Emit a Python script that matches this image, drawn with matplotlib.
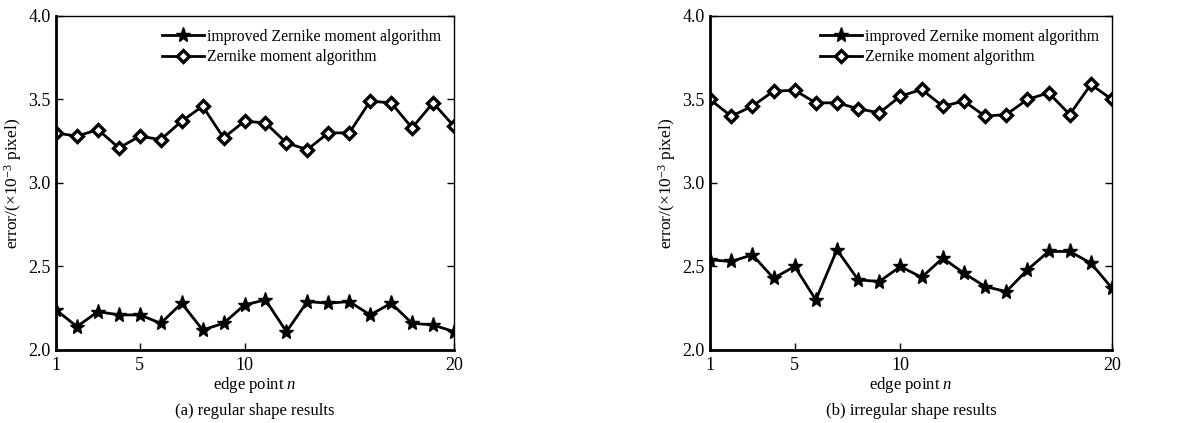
import matplotlib
matplotlib.use("Agg")
import matplotlib.pyplot as plt

plt.rcParams['font.family'] = ['Liberation Serif', 'DejaVu Serif']
plt.rcParams['mathtext.fontset'] = 'custom'
plt.rcParams['mathtext.rm'] = 'Liberation Serif'
plt.rcParams['mathtext.it'] = 'Liberation Serif:italic'

n = list(range(1, 21))
xticks = [1, 5, 10, 20]
yticks = [2.0, 2.5, 3.0, 3.5, 4.0]
ytick_labels = ["2.0", "2.5", "3.0", "3.5", "4.0"]

reg_improved = [2.24, 2.14, 2.23, 2.21, 2.21, 2.16, 2.28, 2.12, 2.16, 2.27,
                2.30, 2.11, 2.29, 2.28, 2.29, 2.21, 2.28, 2.16, 2.15, 2.11]
reg_zernike = [3.30, 3.28, 3.32, 3.21, 3.28, 3.26, 3.37, 3.46, 3.27, 3.37,
               3.36, 3.24, 3.20, 3.30, 3.30, 3.49, 3.48, 3.33, 3.48, 3.34]
irr_improved = [2.54, 2.53, 2.57, 2.43, 2.50, 2.30, 2.60, 2.42, 2.41, 2.50,
                2.435, 2.55, 2.46, 2.38, 2.35, 2.48, 2.59, 2.59, 2.52, 2.37]
irr_zernike = [3.50, 3.40, 3.46, 3.55, 3.555, 3.48, 3.48, 3.445, 3.42, 3.52,
               3.56, 3.46, 3.49, 3.40, 3.41, 3.50, 3.54, 3.41, 3.59, 3.50]

labels = ["improved Zernike moment algorithm", "Zernike moment algorithm"]
captions = ["(a) regular shape results", "(b) irregular shape results"]

fig = plt.figure(figsize=(12, 4.23), dpi=100)
positions = [[0.0467, 0.1726, 0.3316, 0.7896], [0.5917, 0.1726, 0.335, 0.7896]]
datasets = [(reg_improved, reg_zernike), (irr_improved, irr_zernike)]

for pos, (imp, zer), cap in zip(positions, datasets, captions):
    ax = fig.add_axes(pos)
    ax.plot(n, imp, color='black', lw=2.0, marker='*', ms=11, mfc='black', mec='black', label=labels[0])
    ax.plot(n, zer, color='black', lw=2.0, marker='D', ms=6, mfc='white', mec='black', mew=2.4, label=labels[1])
    ax.set_xlim(1, 20)
    ax.set_ylim(2.0, 4.0)
    ax.set_xticks(xticks)
    ax.set_xticklabels([str(t) for t in xticks], fontsize=13)
    ax.set_yticks(yticks)
    ax.set_yticklabels(ytick_labels, fontsize=13)
    ax.tick_params(direction='in', right=True, top=False, length=5, width=1, pad=4)
    ax.xaxis.set_tick_params(pad=5)
    for s in ['left', 'bottom']:
        ax.spines[s].set_linewidth(2)
    for s in ['top', 'right']:
        ax.spines[s].set_linewidth(1)
    ax.set_xlabel(r"edge point $n$", fontsize=12, labelpad=1)
    ax.set_ylabel(r"error/($\times$10$^{-3}$ pixel)", fontsize=12.5, labelpad=3)
    ax.legend(loc='upper right', frameon=False, fontsize=11.3, handlelength=2.7,
              handletextpad=0.2, labelspacing=0.3, borderaxespad=0.4)
    ax.text(0.5, -0.16, cap, transform=ax.transAxes, ha='center', va='top', fontsize=12)

fig.savefig("out.png", dpi=100)
